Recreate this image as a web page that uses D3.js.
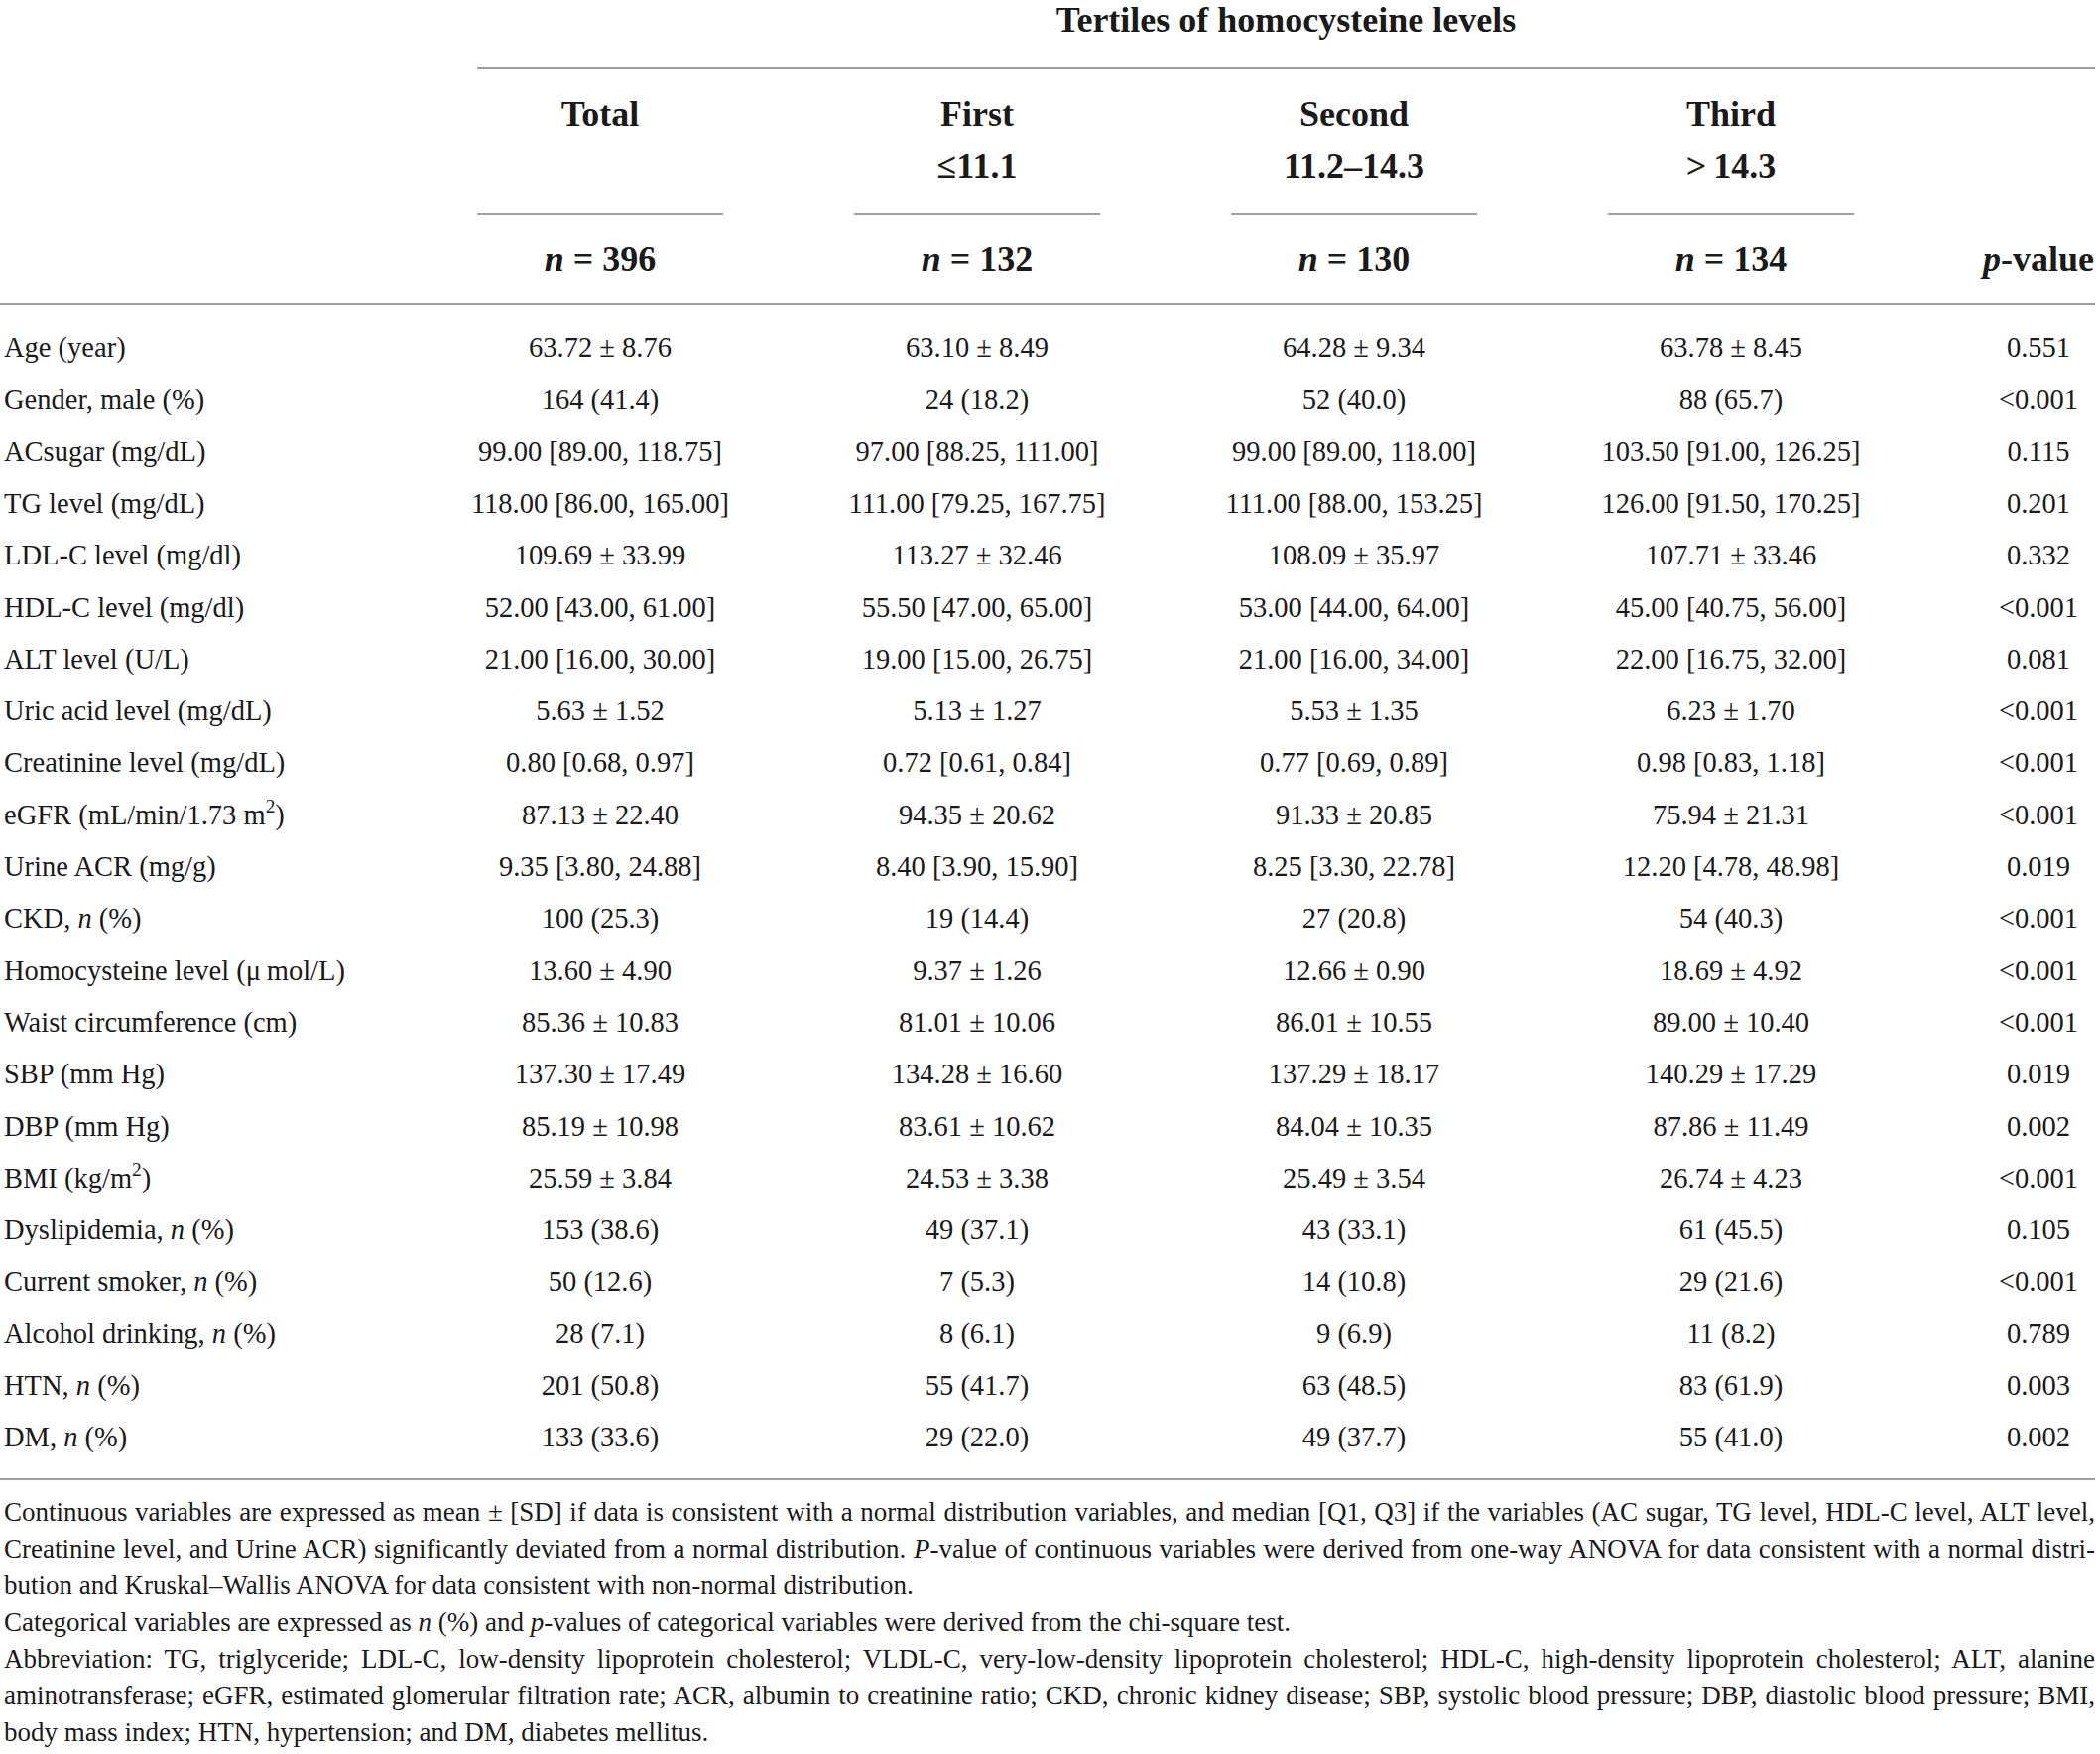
<!DOCTYPE html>
<html>
<head>
<meta charset="utf-8">
<script src="https://cdn.jsdelivr.net/npm/d3@7"></script>
<style>
    body { margin: 0; background: #fff; }
    svg { display: block; }
</style>
</head>
<body>
<div id="baseline-table"></div>
<script>
// *x* = italic, ^x^ = superscript
const rowLabels = [
    "Age (year)",
    "Gender, male (%)",
    "ACsugar (mg/dL)",
    "TG level (mg/dL)",
    "LDL-C level (mg/dl)",
    "HDL-C level (mg/dl)",
    "ALT level (U/L)",
    "Uric acid level (mg/dL)",
    "Creatinine level (mg/dL)",
    "eGFR (mL/min/1.73 m^2^)",
    "Urine ACR (mg/g)",
    "CKD, *n* (%)",
    "Homocysteine level (\u03bc\u2009mol/L)",
    "Waist circumference (cm)",
    "SBP (mm Hg)",
    "DBP (mm Hg)",
    "BMI (kg/m^2^)",
    "Dyslipidemia, *n* (%)",
    "Current smoker, *n* (%)",
    "Alcohol drinking, *n* (%)",
    "HTN, *n* (%)",
    "DM, *n* (%)",
];

const totalValues = [
    "63.72 ± 8.76", "164 (41.4)", "99.00 [89.00, 118.75]", "118.00 [86.00, 165.00]",
    "109.69 ± 33.99", "52.00 [43.00, 61.00]", "21.00 [16.00, 30.00]", "5.63 ± 1.52",
    "0.80 [0.68, 0.97]", "87.13 ± 22.40", "9.35 [3.80, 24.88]", "100 (25.3)",
    "13.60 ± 4.90", "85.36 ± 10.83", "137.30 ± 17.49", "85.19 ± 10.98",
    "25.59 ± 3.84", "153 (38.6)", "50 (12.6)", "28 (7.1)", "201 (50.8)", "133 (33.6)",
];
const firstValues = [
    "63.10 ± 8.49", "24 (18.2)", "97.00 [88.25, 111.00]", "111.00 [79.25, 167.75]",
    "113.27 ± 32.46", "55.50 [47.00, 65.00]", "19.00 [15.00, 26.75]", "5.13 ± 1.27",
    "0.72 [0.61, 0.84]", "94.35 ± 20.62", "8.40 [3.90, 15.90]", "19 (14.4)",
    "9.37 ± 1.26", "81.01 ± 10.06", "134.28 ± 16.60", "83.61 ± 10.62",
    "24.53 ± 3.38", "49 (37.1)", "7 (5.3)", "8 (6.1)", "55 (41.7)", "29 (22.0)",
];
const secondValues = [
    "64.28 ± 9.34", "52 (40.0)", "99.00 [89.00, 118.00]", "111.00 [88.00, 153.25]",
    "108.09 ± 35.97", "53.00 [44.00, 64.00]", "21.00 [16.00, 34.00]", "5.53 ± 1.35",
    "0.77 [0.69, 0.89]", "91.33 ± 20.85", "8.25 [3.30, 22.78]", "27 (20.8)",
    "12.66 ± 0.90", "86.01 ± 10.55", "137.29 ± 18.17", "84.04 ± 10.35",
    "25.49 ± 3.54", "43 (33.1)", "14 (10.8)", "9 (6.9)", "63 (48.5)", "49 (37.7)",
];
const thirdValues = [
    "63.78 ± 8.45", "88 (65.7)", "103.50 [91.00, 126.25]", "126.00 [91.50, 170.25]",
    "107.71 ± 33.46", "45.00 [40.75, 56.00]", "22.00 [16.75, 32.00]", "6.23 ± 1.70",
    "0.98 [0.83, 1.18]", "75.94 ± 21.31", "12.20 [4.78, 48.98]", "54 (40.3)",
    "18.69 ± 4.92", "89.00 ± 10.40", "140.29 ± 17.29", "87.86 ± 11.49",
    "26.74 ± 4.23", "61 (45.5)", "29 (21.6)", "11 (8.2)", "83 (61.9)", "55 (41.0)",
];
const pValues = [
    "0.551", "<0.001", "0.115", "0.201", "0.332", "<0.001", "0.081", "<0.001",
    "<0.001", "<0.001", "0.019", "<0.001", "<0.001", "<0.001", "0.019", "0.002",
    "<0.001", "0.105", "<0.001", "0.789", "0.003", "0.002",
];

const spannerTitle = "Tertiles of homocysteine levels";
const groupNames = ["Total", "First", "Second", "Third"];
const groupRanges = ["", "\u226411.1", "11.2\u201314.3", ">\u200914.3"];
const groupCounts = [396, 132, 130, 134];
const pHeader = "*p*-value";

// footnote lines, true = justified to full width
const footnoteLines = [
    ["Continuous variables are expressed as mean ± [SD] if data is consistent with a normal distribution variables, and median [Q1, Q3] if the variables (AC sugar, TG level, HDL-C level, ALT level,", true],
    ["Creatinine level, and Urine ACR) significantly deviated from a normal distribution. *P*-value of continuous variables were derived from one-way ANOVA for data consistent with a normal distri-", true],
    ["bution and Kruskal\u2013Wallis ANOVA for data consistent with non-normal distribution.", false],
    ["Categorical variables are expressed as *n* (%) and *p*-values of categorical variables were derived from the chi-square test.", false],
    ["Abbreviation: TG, triglyceride; LDL-C, low-density lipoprotein cholesterol; VLDL-C, very-low-density lipoprotein cholesterol; HDL-C, high-density lipoprotein cholesterol; ALT, alanine", true],
    ["aminotransferase; eGFR, estimated glomerular filtration rate; ACR, albumin to creatinine ratio; CKD, chronic kidney disease; SBP, systolic blood pressure; DBP, diastolic blood pressure; BMI,", true],
    ["body mass index; HTN, hypertension; and DM, diabetes mellitus.", false],
];

function splitMarkup(text) {
    // returns [{text, italic, sup}]
    const parts = [];
    const re = /\*([^*]+)\*|\^([^^]+)\^|([^*^]+)/g;
    let match;
    while ((match = re.exec(text)) !== null) {
        if (match[1]) parts.push({text: match[1], italic: true});
        else if (match[2]) parts.push({text: match[2], sup: true});
        else parts.push({text: match[3]});
    }
    return parts;
}

function writeRich(textSel, markup) {
    const parts = splitMarkup(markup);
    let raised = false;
    parts.forEach((part) => {
        const span = textSel.append("tspan").text(part.text);
        if (part.italic) span.attr("font-style", "italic");
        if (part.sup) {
            span.attr("font-size", "0.68em").attr("dy", "-0.62em");
            raised = true;
        } else if (raised) {
            span.attr("dy", "0.42em");
            raised = false;
        }
    });
}

function renderTable() {
    const outerWidth = 2117;
    const outerHeight = 1768;
    const ink = "#1a1a1a";
    const rule = "#9f9f9f";
    const serif = "'Liberation Serif', 'Times New Roman', serif";

    const svg = d3.select("#baseline-table")
        .append("svg")
        .attr("width", outerWidth)
        .attr("height", outerHeight)
        .attr("font-family", serif)
        .attr("fill", ink);

    const tableLeft = 4;
    const tableRight = 2112;

    const x = d3.scalePoint()
        .domain(groupNames)
        .range([605, 1745]);
    const pX = 2055;
    const halfRule = 124;

    const y = d3.scaleLinear()
        .domain([0, rowLabels.length - 1])
        .range([360, 1458.3]);

    // header
    const header = svg.append("g").attr("font-weight", "bold").attr("font-size", 36).attr("text-anchor", "middle");

    header.append("text")
        .attr("x", (x("Total") - halfRule + tableRight) / 2)
        .attr("y", 32)
        .text(spannerTitle);

    svg.append("line")
        .attr("x1", x("Total") - halfRule).attr("x2", tableRight)
        .attr("y1", 69).attr("y2", 69)
        .attr("stroke", rule).attr("stroke-width", 2);

    groupNames.forEach((name, index) => {
        header.append("text").attr("x", x(name)).attr("y", 127).text(name);
        if (groupRanges[index]) {
            header.append("text").attr("x", x(name)).attr("y", 179).text(groupRanges[index]);
        }
        svg.append("line")
            .attr("x1", x(name) - halfRule).attr("x2", x(name) + halfRule)
            .attr("y1", 216).attr("y2", 216)
            .attr("stroke", rule).attr("stroke-width", 2);
        const countText = header.append("text").attr("x", x(name)).attr("y", 273);
        writeRich(countText, `*n* = ${groupCounts[index]}`);
    });

    writeRich(header.append("text").attr("x", pX).attr("y", 273), pHeader);

    svg.append("line")
        .attr("x1", 0).attr("x2", tableRight)
        .attr("y1", 306).attr("y2", 306)
        .attr("stroke", rule).attr("stroke-width", 2);

    // body
    const body = svg.append("g").attr("font-size", 28.5);

    rowLabels.forEach((label, index) => {
        writeRich(body.append("text").attr("x", tableLeft).attr("y", y(index)), label);
    });

    const columns = [totalValues, firstValues, secondValues, thirdValues];
    columns.forEach((values, colIndex) => {
        body.selectAll(null)
            .data(values)
            .enter()
            .append("text")
            .attr("text-anchor", "middle")
            .attr("x", x(groupNames[colIndex]))
            .attr("y", (d, i) => y(i))
            .text((d) => d);
    });

    body.selectAll(null)
        .data(pValues)
        .enter()
        .append("text")
        .attr("text-anchor", "middle")
        .attr("x", pX)
        .attr("y", (d, i) => y(i))
        .text((d) => d);

    svg.append("line")
        .attr("x1", 0).attr("x2", tableRight)
        .attr("y1", 1491).attr("y2", 1491)
        .attr("stroke", rule).attr("stroke-width", 2);

    // footnotes
    const notes = svg.append("g").attr("font-size", 27);
    const noteY = d3.scaleLinear().domain([0, footnoteLines.length - 1]).range([1533, 1755]);
    footnoteLines.forEach(([line, justified], index) => {
        const text = notes.append("text").attr("x", tableLeft).attr("y", noteY(index));
        writeRich(text, line);
        if (justified) {
            const natural = text.node().getComputedTextLength();
            const spaces = (line.match(/ /g) || []).length;
            const target = tableRight - tableLeft;
            text.attr("word-spacing", (target - natural) / spaces);
        }
    });
}

renderTable();
</script>
</body>
</html>
